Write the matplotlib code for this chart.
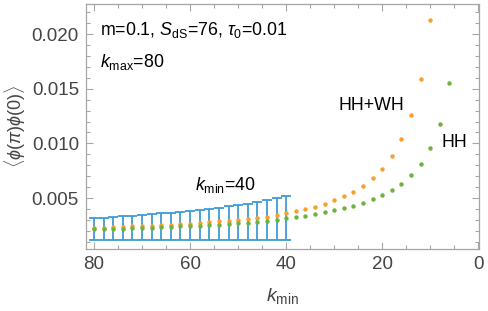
import numpy as np
import matplotlib
matplotlib.use("Agg")
import matplotlib.pyplot as plt
from matplotlib.ticker import MultipleLocator

plt.rcParams["font.family"] = ["Liberation Sans", "DejaVu Sans"]
plt.rcParams["mathtext.fontset"] = "custom"
plt.rcParams["mathtext.rm"] = "Liberation Sans"
plt.rcParams["mathtext.it"] = "Liberation Sans:italic"

# HH+WH (orange), k_min = 80, 78, ..., 10
k_hhwh = list(range(80, 8, -2))
v_hhwh = [0.00226, 0.00229, 0.00232, 0.00236, 0.00240, 0.00244, 0.00248, 0.00252,
          0.00257, 0.00262, 0.00267, 0.00273, 0.00279, 0.00286, 0.00293, 0.00301,
          0.00310, 0.00319, 0.00330, 0.00345, 0.00363, 0.00380, 0.00400, 0.00420,
          0.00448, 0.00478, 0.00515, 0.00558, 0.00610, 0.00680, 0.00767, 0.00887,
          0.01042, 0.01259, 0.01590, 0.02130]

# HH (green), k_min = 80, 78, ..., 6
k_hh = list(range(80, 4, -2))
v_hh = [0.00214, 0.00216, 0.00219, 0.00221, 0.00224, 0.00227, 0.00230, 0.00233,
        0.00237, 0.00241, 0.00245, 0.00249, 0.00253, 0.00258, 0.00263, 0.00270,
        0.00276, 0.00283, 0.00292, 0.00302, 0.00314, 0.00326, 0.00338, 0.00354,
        0.00369, 0.00387, 0.00405, 0.00430, 0.00457, 0.00488, 0.00527, 0.00575,
        0.00630, 0.00707, 0.00808, 0.00957, 0.01174, 0.01549]

# error band, k_min = 80 ... 40
k_err = list(range(80, 38, -2))
err_hi = [0.00314, 0.00320, 0.00326, 0.00332, 0.00339, 0.00345, 0.00352, 0.00359,
          0.00366, 0.00373, 0.00381, 0.00391, 0.00401, 0.00412, 0.00424, 0.00436,
          0.00450, 0.00465, 0.00480, 0.00497, 0.00516]
err_lo = [0.00116] * len(k_err)

blue = "#3f9bd6"
orange = "#f7a030"
green = "#6db33f"
frame = "#a6a6a6"
txt = "#444444"

fig = plt.figure(figsize=(4.88, 3.11), dpi=100)
ax = fig.add_axes([0.176, 0.199, 0.806, 0.788])

mid = [(a + b) / 2 for a, b in zip(err_hi, err_lo)]
half = [(a - b) / 2 for a, b in zip(err_hi, err_lo)]
ax.errorbar(k_err, mid, yerr=half, fmt="none", ecolor=blue, elinewidth=1.3,
            capsize=3.4, capthick=1.3, zorder=2)
ax.plot(k_hhwh, v_hhwh, "o", color=orange, ms=3.2, mew=0, zorder=3)
ax.plot(k_hh, v_hh, "o", color=green, ms=3.2, mew=0, zorder=4)

ax.set_xlim(81.7, -0.2)
ax.set_ylim(0.00033, 0.02275)
ax.xaxis.set_major_locator(MultipleLocator(20))
ax.xaxis.set_minor_locator(MultipleLocator(5))
ax.yaxis.set_major_locator(MultipleLocator(0.005))
ax.yaxis.set_minor_locator(MultipleLocator(0.001))
ax.set_yticks([0.005, 0.010, 0.015, 0.020])
ax.set_yticklabels(["0.005", "0.010", "0.015", "0.020"])

for s in ax.spines.values():
    s.set_color(frame)
    s.set_linewidth(0.9)
ax.tick_params(which="both", direction="in", top=True, right=True, color=frame,
               labelcolor=txt, labelsize=13.5, width=0.8)
ax.tick_params(which="major", length=5, pad=5)
ax.tick_params(which="minor", length=3)

ax.set_xlabel(r"$k_{\rm min}$", fontsize=14, color=txt, labelpad=9)
ax.set_ylabel(r"$\langle\phi(\pi)\phi(0)\rangle$", fontsize=13, color=txt, labelpad=3)

fs = 12.8
ax.text(0.035, 0.872, r"m=0.1, $S_{\rm dS}$=76, $\tau_0$=0.01", transform=ax.transAxes,
        fontsize=fs, color="black")
ax.text(0.035, 0.745, r"$k_{\rm max}$=80", transform=ax.transAxes,
        fontsize=fs, color="black")
ax.text(59, 0.0057, r"$k_{\rm min}$=40", fontsize=fs, color="black")
ax.text(29, 0.0131, "HH+WH", fontsize=fs, color="black")
ax.text(7.6, 0.0097, "HH", fontsize=fs, color="black")

fig.savefig("out.png", dpi=100)
